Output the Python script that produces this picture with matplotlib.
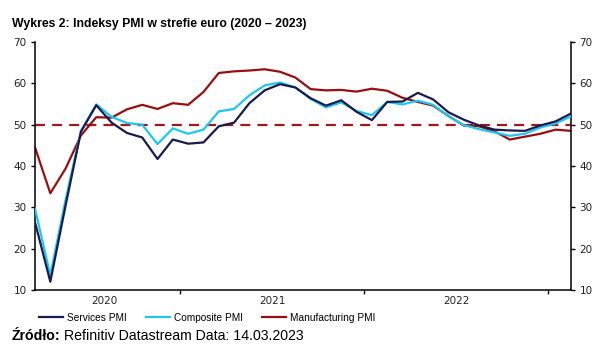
import matplotlib
matplotlib.use("Agg")
import matplotlib.pyplot as plt
import numpy as np

months = ["2020-03", "2020-04", "2020-05", "2020-06", "2020-07", "2020-08", "2020-09", "2020-10",
          "2020-11", "2020-12", "2021-01", "2021-02", "2021-03", "2021-04", "2021-05", "2021-06",
          "2021-07", "2021-08", "2021-09", "2021-10", "2021-11", "2021-12", "2022-01", "2022-02",
          "2022-03", "2022-04", "2022-05", "2022-06", "2022-07", "2022-08", "2022-09", "2022-10",
          "2022-11", "2022-12", "2023-01", "2023-02"]

services = [26.4, 12.0, 30.5, 48.3, 54.7, 50.5, 48.0, 46.9, 41.7, 46.4,
            45.4, 45.7, 49.6, 50.5, 55.2, 58.3, 59.8, 59.0, 56.4, 54.6, 55.9, 53.1,
            51.1, 55.5, 55.6, 57.7, 56.1, 53.0, 51.2, 49.8, 48.8, 48.6, 48.5, 49.8,
            50.8, 52.7]
composite = [29.7, 13.6, 31.9, 48.5, 54.9, 51.9, 50.4, 50.0, 45.3, 49.1,
             47.8, 48.8, 53.2, 53.8, 57.1, 59.5, 60.2, 59.0, 56.2, 54.2, 55.4, 53.3,
             52.3, 55.5, 54.9, 55.8, 54.8, 52.0, 49.9, 48.9, 48.1, 47.3, 47.8, 49.3,
             50.3, 52.0]
manufacturing = [44.5, 33.4, 39.4, 47.4, 51.8, 51.7, 53.7, 54.8, 53.8, 55.2,
                 54.8, 57.9, 62.5, 62.9, 63.1, 63.4, 62.8, 61.4, 58.6, 58.3, 58.4, 58.0,
                 58.7, 58.2, 56.5, 55.5, 54.6, 52.1, 49.8, 49.6, 48.4, 46.4, 47.1, 47.8,
                 48.8, 48.5]
year_labels = ["2020", "2021", "2022"]
threshold = 50
y_ticks = [10, 20, 30, 40, 50, 60, 70]

W, H = 606, 361
fig = plt.figure(figsize=(W / 100, H / 100), dpi=100)
fig.patch.set_facecolor("white")

ax_l, ax_r, ax_t, ax_b = 35, 571, 42, 290
ax = fig.add_axes([ax_l / W, 1 - ax_b / H, (ax_r - ax_l) / W, (ax_b - ax_t) / H])

x = np.arange(len(months))
c_serv = "#1a1a4d"
c_comp = "#1cc8f2"
c_manu = "#990f0f"

ax.axhline(threshold, color="#a31818", lw=1.6, ls=(0, (4.5, 3.2)), zorder=1)
ax.plot(x, manufacturing, color=c_manu, lw=1.6, label="Manufacturing PMI", zorder=2)
ax.plot(x, composite, color=c_comp, lw=1.6, label="Composite PMI", zorder=3)
ax.plot(x, services, color=c_serv, lw=1.6, label="Services PMI", zorder=4)

ax.set_xlim(0, len(months) - 1)
ax.set_ylim(10, 70)
ax.set_yticks(y_ticks)

# year boundary ticks (between Dec and Jan)
jan_idx = [i for i, m in enumerate(months) if m.endswith("-01")]
ax.set_xticks([i - 0.5 for i in jan_idx])
ax.set_xticklabels([])
starts = [-0.5] + [i - 0.5 for i in jan_idx]
centers = [(starts[k] + starts[k + 1]) / 2 for k in range(len(year_labels))]
ax.set_xticks(centers, minor=True)
ax.set_xticklabels(year_labels, minor=True)
ax.tick_params(axis="x", which="minor", length=0, pad=4, labelsize=7.5, labelcolor="#222222")
ax.tick_params(axis="x", which="major", length=3, width=1, direction="out")

ax.tick_params(axis="y", which="major", length=3, width=1, direction="out",
               labelsize=7.5, labelcolor="#222222", left=True, right=True,
               labelleft=True, labelright=True, pad=3)
for lab in ax.get_xticklabels(minor=True):
    lab.set_fontfamily("DejaVu Sans")
for lab in ax.yaxis.get_majorticklabels():
    lab.set_fontfamily("DejaVu Sans")

for s in ["left", "right", "bottom"]:
    ax.spines[s].set_linewidth(1.1)
    ax.spines[s].set_color("black")
ax.spines["top"].set_visible(False)

# title
fig.text(12 / W, 1 - 27 / H, "Wykres 2: Indeksy PMI w strefie euro (2020 – 2023)",
         fontsize=8.8, fontweight="bold", family="Liberation Sans", ha="left", va="baseline")

# legend
handles, labels = ax.get_legend_handles_labels()
order = [2, 1, 0]
leg = fig.legend([handles[i] for i in order], [labels[i] for i in order],
                 loc="center left", bbox_to_anchor=(39 / W, 1 - 318 / H), ncol=3,
                 frameon=False, prop={"family": "Liberation Sans", "size": 7.3},
                 handlelength=2.4, handletextpad=0.35, columnspacing=1.9, borderaxespad=0,
                 borderpad=0)

# source
renderer = fig.canvas.get_renderer()
t1 = fig.text(12 / W, 1 - 340 / H, "Źródło:", fontsize=10.2, fontweight="bold",
              family="Liberation Sans", ha="left", va="baseline")
bb = t1.get_window_extent(renderer)
fig.text((bb.x1 + 3) / W, 1 - 340 / H, "Refinitiv Datastream Data: 14.03.2023", fontsize=10.2,
         family="Liberation Sans", ha="left", va="baseline")

fig.savefig("out.png", dpi=100, facecolor="white")
